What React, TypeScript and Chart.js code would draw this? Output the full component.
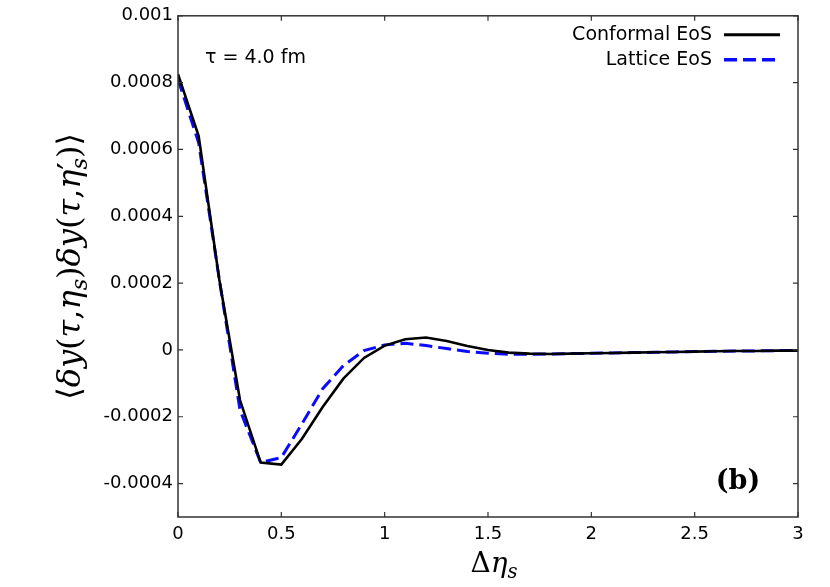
import { useEffect, useRef } from "react"
import { Chart, registerables } from "chart.js"

Chart.register(...registerables)

// Δη_s grid
const etaS = [
  0, 0.1, 0.2, 0.3, 0.4, 0.5, 0.6, 0.7, 0.8, 0.9, 1.0, 1.1, 1.2, 1.3, 1.4, 1.5,
  1.6, 1.7, 1.8, 1.9, 2.0, 2.1, 2.2, 2.3, 2.4, 2.5, 2.6, 2.7, 2.8, 2.9, 3.0,
]

const conformalEoS = [
  8.25e-4, 6.4e-4, 2.1e-4, -1.5e-4, -3.37e-4, -3.43e-4, -2.66e-4, -1.71e-4,
  -0.86e-4, -0.24e-4, 0.13e-4, 0.32e-4, 0.37e-4, 0.27e-4, 0.12e-4, 0.0,
  -0.08e-4, -0.11e-4, -0.12e-4, -0.11e-4, -0.1e-4, -0.09e-4, -0.08e-4,
  -0.07e-4, -0.06e-4, -0.05e-4, -0.04e-4, -0.03e-4, -0.03e-4, -0.02e-4,
  -0.02e-4,
]

const latticeEoS = [
  8.1e-4, 6.2e-4, 2.1e-4, -1.8e-4, -3.37e-4, -3.22e-4, -2.21e-4, -1.16e-4,
  -0.47e-4, -0.02e-4, 0.15e-4, 0.2e-4, 0.13e-4, 0.04e-4, -0.05e-4, -0.1e-4,
  -0.13e-4, -0.13e-4, -0.12e-4, -0.11e-4, -0.1e-4, -0.09e-4, -0.08e-4,
  -0.07e-4, -0.06e-4, -0.05e-4, -0.04e-4, -0.03e-4, -0.03e-4, -0.02e-4,
  -0.02e-4,
]

const seriesLabels = ["Conformal EoS", "Lattice EoS"]

const xTicks = [0, 0.5, 1, 1.5, 2, 2.5, 3]
const xTickLabels = ["0", "0.5", "1", "1.5", "2", "2.5", "3"]
const yTicks = [-0.0004, -0.0002, 0, 0.0002, 0.0004, 0.0006, 0.0008, 0.001]
const yTickLabels = ["-0.0004", "-0.0002", "0", "0.0002", "0.0004", "0.0006", "0.0008", "0.001"]

const SANS = "'DejaVu Sans', sans-serif"
const SERIF = "'DejaVu Serif', serif"

type Seg = { t: string; it?: boolean; sub?: boolean; back?: boolean }

const yTitle: Seg[] = [
  { t: "⟨" }, { t: "δy", it: true }, { t: "(" }, { t: "τ", it: true }, { t: "," },
  { t: "η", it: true }, { t: "s", it: true, sub: true }, { t: ")" }, { t: "δy", it: true },
  { t: "(" }, { t: "τ", it: true }, { t: "," }, { t: "η", it: true },
  { t: "′" }, { t: "s", it: true, sub: true, back: true }, { t: ")⟩" },
]
const xTitle: Seg[] = [{ t: "Δ" }, { t: "η", it: true }, { t: "s", it: true, sub: true }]

function drawSegs(ctx: CanvasRenderingContext2D, segs: Seg[], cx: number, y: number, size: number) {
  const fontFor = (s: Seg) => {
    const sz = s.sub ? size * 0.7 : size
    return `${s.it ? "italic " : ""}${sz}px ${SERIF}`
  }
  const raw = segs.map((s) => {
    ctx.font = fontFor(s)
    return ctx.measureText(s.t).width
  })
  // a "back" segment sits under the previous one (prime + subscript)
  const adv = segs.map((s, i) => (s.back ? Math.max(0, raw[i] - raw[i - 1]) : raw[i]))
  const total = adv.reduce((a, b) => a + b, 0)
  let x = cx - total / 2
  ctx.textAlign = "left"
  ctx.textBaseline = "alphabetic"
  segs.forEach((s, i) => {
    ctx.font = fontFor(s)
    const dy = s.sub ? size * 0.22 : 0
    const sx = s.back ? x - raw[i - 1] : x
    ctx.fillText(s.t, sx, y + dy)
    x += adv[i]
  })
}

const framePlugin = {
  id: "frame",
  afterDatasetsDraw(chart: any) {
    const { ctx, chartArea: a, scales } = chart
    const xs = scales.x
    const ys = scales.y
    ctx.save()
    ctx.strokeStyle = "#333"
    ctx.lineWidth = 1.5
    ctx.strokeRect(a.left, a.top, a.right - a.left, a.bottom - a.top)
    ctx.lineWidth = 1.2
    ctx.beginPath()
    xTicks.forEach((v) => {
      const px = xs.getPixelForValue(v)
      ctx.moveTo(px, a.bottom)
      ctx.lineTo(px, a.bottom - 5)
      ctx.moveTo(px, a.top)
      ctx.lineTo(px, a.top + 5)
    })
    yTicks.forEach((v) => {
      const py = ys.getPixelForValue(v)
      ctx.moveTo(a.left, py)
      ctx.lineTo(a.left + 5, py)
      ctx.moveTo(a.right, py)
      ctx.lineTo(a.right - 5, py)
    })
    ctx.stroke()

    // legend
    chart.data.datasets.forEach((ds: any, i: number) => {
      const ly = a.top + 19 + i * 25
      ctx.fillStyle = "#000"
      ctx.font = `19px ${SANS}`
      ctx.textAlign = "right"
      ctx.textBaseline = "middle"
      ctx.fillText(ds.label, a.right - 86, ly)
      ctx.strokeStyle = ds.borderColor
      ctx.lineWidth = ds.borderWidth + 0.5
      ctx.setLineDash(ds.borderDash || [])
      ctx.beginPath()
      ctx.moveTo(a.right - 74, ly)
      ctx.lineTo(a.right - 18, ly)
      ctx.stroke()
      ctx.setLineDash([])
    })

    // annotations
    ctx.fillStyle = "#000"
    ctx.font = `19px ${SANS}`
    ctx.textAlign = "left"
    ctx.textBaseline = "middle"
    ctx.fillText("τ = 4.0 fm", a.left + 27, a.top + 42)
    ctx.font = `bold 27px ${SERIF}`
    ctx.textAlign = "center"
    ctx.fillText("(b)", a.right - 60, a.bottom - 35)

    // axis titles
    drawSegs(ctx, xTitle, (a.left + a.right) / 2 + 6, 572, 28)
    ctx.translate(80, (a.top + a.bottom) / 2)
    ctx.rotate(-Math.PI / 2)
    drawSegs(ctx, yTitle, 0, 0, 32)
    ctx.restore()
  },
}

export default function App() {
  const canvasRef = useRef<HTMLCanvasElement>(null)

  useEffect(() => {
    document.body.style.margin = "0"
    if (!canvasRef.current) return
    const chart = new Chart(canvasRef.current, {
      type: "line",
      data: {
        datasets: [
          {
            label: seriesLabels[0],
            data: etaS.map((x, i) => ({ x, y: conformalEoS[i] })),
            borderColor: "#000000",
            borderWidth: 2.6,
            pointRadius: 0,
            tension: 0,
          },
          {
            label: seriesLabels[1],
            data: etaS.map((x, i) => ({ x, y: latticeEoS[i] })),
            borderColor: "#0a0aff",
            borderWidth: 3,
            borderDash: [13, 6],
            pointRadius: 0,
            tension: 0,
          },
        ],
      },
      options: {
        animation: false,
        responsive: true,
        maintainAspectRatio: false,
        layout: { padding: { top: 15, right: 32, left: 0, bottom: 0 } },
        plugins: { legend: { display: false }, tooltip: { enabled: false } },
        scales: {
          x: {
            type: "linear",
            min: 0,
            max: 3,
            grid: { display: false, drawTicks: false },
            border: { display: false },
            afterBuildTicks: (s: any) => {
              s.ticks = xTicks.map((value) => ({ value }))
            },
            afterFit: (s: any) => {
              s.height = 70
            },
            ticks: {
              padding: 7,
              color: "#000",
              font: { family: SANS, size: 18 },
              callback: (_v: any, i: number) => xTickLabels[i],
            },
          },
          y: {
            type: "linear",
            min: -0.0005,
            max: 0.001,
            grid: { display: false, drawTicks: false },
            border: { display: false },
            afterBuildTicks: (s: any) => {
              s.ticks = yTicks.map((value) => ({ value }))
            },
            afterFit: (s: any) => {
              s.width = 178
            },
            ticks: {
              padding: 5,
              color: "#000",
              font: { family: SANS, size: 18 },
              callback: (_v: any, i: number) => yTickLabels[i],
            },
          },
        },
      },
      plugins: [framePlugin],
    })
    return () => chart.destroy()
  }, [])

  return (
    <div style={{ width: 830, height: 587, position: "relative" }}>
      <canvas ref={canvasRef} />
    </div>
  )
}
